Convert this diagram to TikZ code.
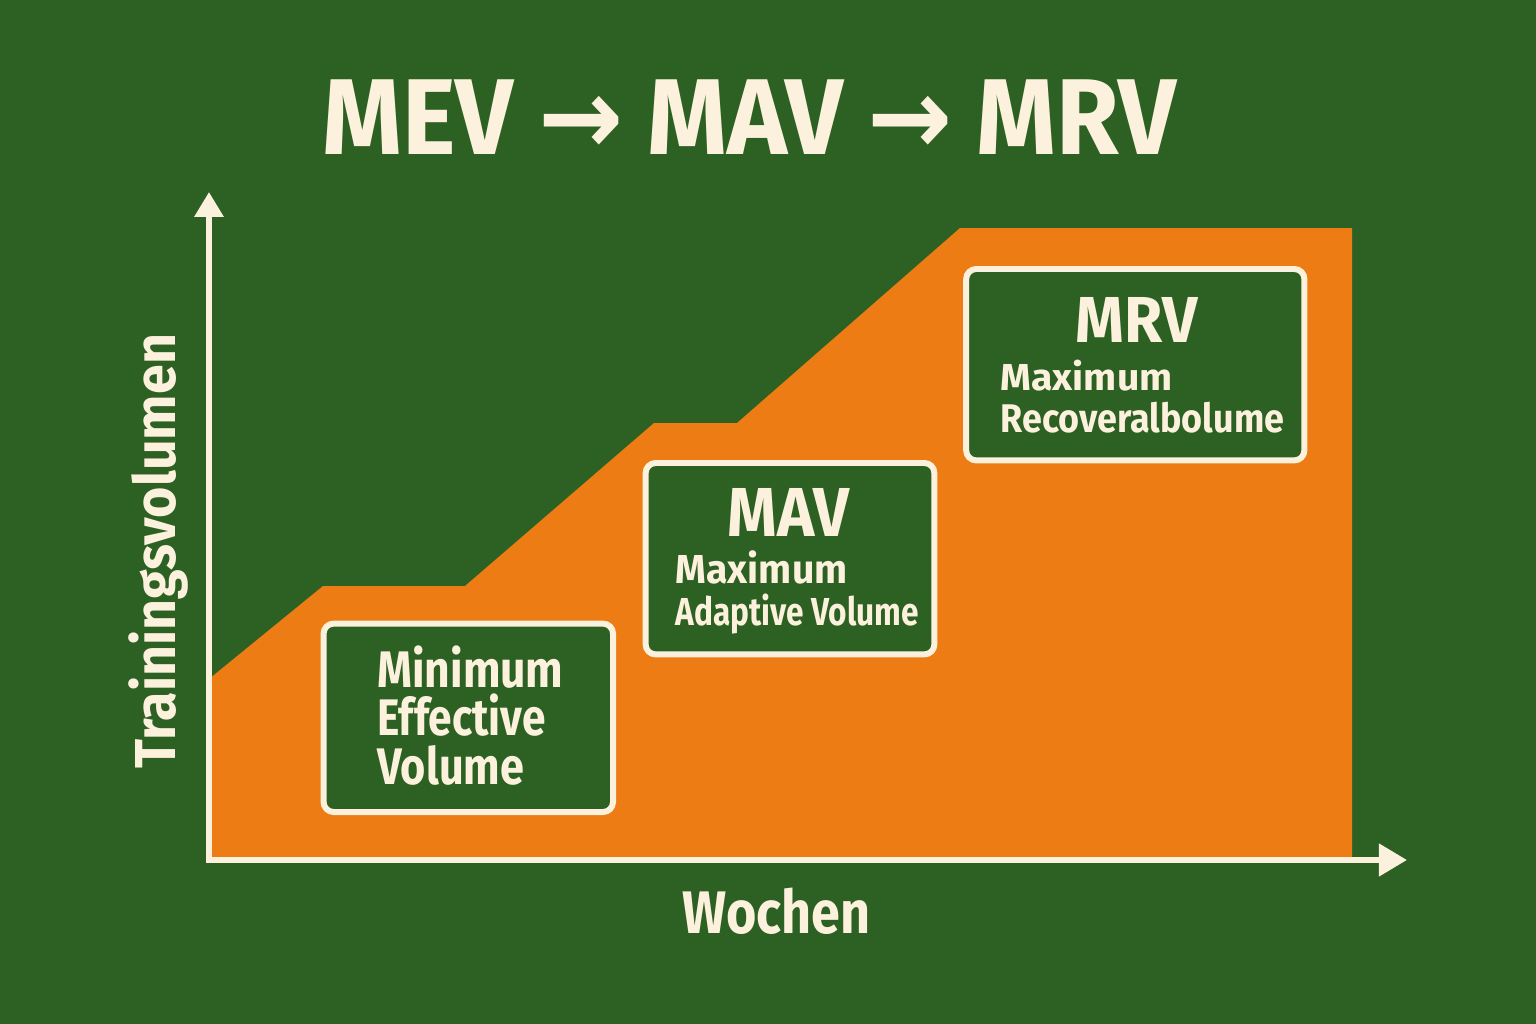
\documentclass[tikz,border=0pt]{standalone}
\usepackage{fontspec}
\setmainfont{Fira Sans}
\newfontfamily\arrowfont{DejaVu Sans}
\usetikzlibrary{arrows.meta}

\definecolor{bggreen}{HTML}{2D6124}
\definecolor{volorange}{HTML}{EC7C13}
\definecolor{cream}{HTML}{FCF1DC}

\newlength{\px}
\setlength{\px}{0.28453pt}
% text brought to a width and a cap height, both in px
\newcommand{\fitted}[3]{\resizebox{#1\px}{#2\px}{\smash{#3}\vphantom{M}}}

\tikzset{
  volbox/.style={draw=cream, line width=1.7pt, fill=bggreen, rounded corners=2.85pt, inner sep=0pt},
  boxline/.style={text=cream, font=\bfseries, inner sep=0pt, anchor=base west},
  axis/.style={draw=cream, line width=1.7pt,
    {Triangle[length=7.1pt,width=8pt]}-{Triangle[length=8pt,width=9pt]}}
}

\begin{document}
\begin{tikzpicture}[x=0.01cm, y=-0.01cm]
            \fill[bggreen] (0,0) rectangle (1536,1024);
            \useasboundingbox (0,0) rectangle (1536,1024);

            % volume area
            \fill[volorange] (209,679) -- (323,586) -- (465,586) -- (654,423) -- (737,423)
                -- (960,228) -- (1352,228) -- (1352,860) -- (209,860) -- cycle;

            % axes
            \coordinate (origin) at (209,860);
            \coordinate (ytip) at (209,192);
            \coordinate (xtip) at (1407,860);
            \draw[axis] (ytip) -- (origin) -- (xtip);
            \node[boxline, rotate=90] (ylabel) at (175,769) {\fitted{434}{40}{Trainingsvolumen}};
            \node[boxline] (xlabel) at (682,933.3) {\fitted{187.6}{41.6}{Wochen}};

            % title
            \node[boxline] (title) at (321.8,154)
                {\fitted{853.6}{74.7}{MEV {\arrowfont →} MAV {\arrowfont →} MRV}};

            % boxes
            \node[volbox, minimum width=2.893cm, minimum height=1.883cm] (mevbox) at (468.3,717.8) {};
            \node[volbox, minimum width=2.886cm, minimum height=1.913cm] (mavbox) at (790,558.7) {};
            \node[volbox, minimum width=3.38cm, minimum height=1.913cm] (mrvbox) at (1135.3,364.7) {};

            \node[boxline] (mev1) at (376.7,687.3) {\fitted{186}{35.6}{Minimum}};
            \node[boxline] (mev2) at (376.7,735) {\fitted{168.3}{35.6}{Effective}};
            \node[boxline] (mev3) at (376.7,784) {\fitted{146.7}{35.6}{Volume}};

            \node[boxline] (mav0) at (726.7,536) {\fitted{121.6}{48}{MAV}};
            \node[boxline] (mav1) at (675,583) {\fitted{171.7}{28}{Maximum}};
            \node[boxline] (mav2) at (675,625) {\fitted{243}{27}{Adaptive Volume}};

            \node[boxline] (mrv0) at (1075,342) {\fitted{121.7}{45}{MRV}};
            \node[boxline] (mrv1) at (1000,390) {\fitted{171.7}{26}{Maximum}};
            \node[boxline] (mrv2) at (1000,432.7) {\fitted{283.3}{27.7}{Recoveralbolume}};
\end{tikzpicture}
\end{document}
